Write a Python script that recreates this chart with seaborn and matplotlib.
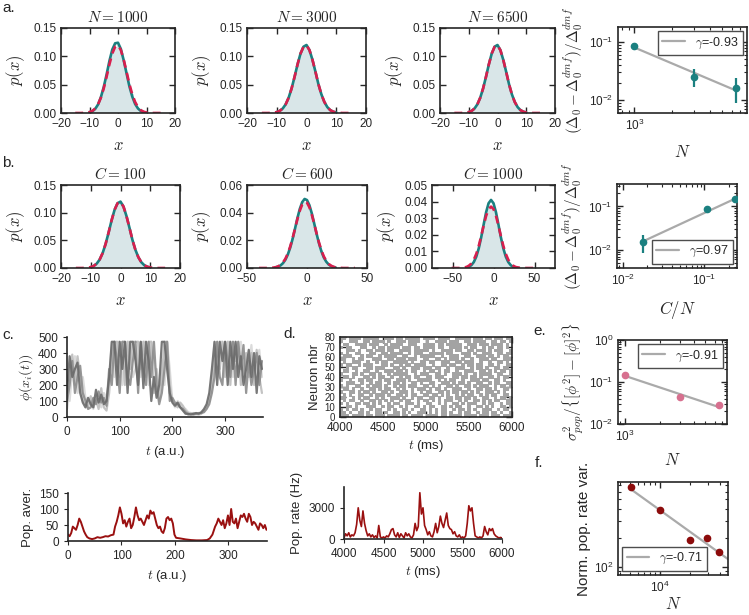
import matplotlib
matplotlib.use("Agg")
import matplotlib.pyplot as plt
import matplotlib.ticker as mticker
import seaborn as sns

sns.set_style("ticks")
plt.rcParams['font.family'] = ['Liberation Sans', 'DejaVu Sans']
plt.rcParams['mathtext.fontset'] = 'cm'
plt.rcParams['axes.linewidth'] = 1.2
plt.rcParams['xtick.labelsize'] = 8.5
plt.rcParams['ytick.labelsize'] = 8.5

TEAL = "#1b8080"
RED = "#d81f4e"
FILL = "#d9e6e8"
GREY_FIT = "#aaaaaa"
PINK = "#d7708f"
DARKRED = "#8c0b0b"
LINE_RED = "#9a1010"

# ---------------- data: distributions (a, b) ----------------
x_a = list(range(-15, 16))
x_a_teal = list(range(-10, 11))
red_a = [0, 0, 0, 0.0002, 0.0006, 0.0016, 0.0037, 0.0079, 0.0153, 0.027, 0.0435,
         0.064, 0.086, 0.105, 0.117, 0.1195, 0.111, 0.094, 0.073, 0.051, 0.033,
         0.0195, 0.0104, 0.005, 0.0023, 0.0009, 0.0003, 0, 0, 0, 0]
teal_a1 = [0.0012, 0.003, 0.0072, 0.015, 0.028, 0.046, 0.068, 0.092, 0.112, 0.123,
           0.124, 0.113, 0.093, 0.07, 0.047, 0.029, 0.016, 0.008, 0.0035, 0.0014, 0.0005]
teal_a2 = [0.0016, 0.0037, 0.0079, 0.0153, 0.027, 0.0435, 0.064, 0.086, 0.105, 0.117,
           0.12, 0.111, 0.094, 0.073, 0.051, 0.033, 0.0195, 0.0104, 0.005, 0.0023, 0.0009]
teal_a3 = teal_a2
teal_b1 = teal_a2

x_b2 = list(range(-40, 41, 2))
red_b2 = [0, 0, 0, 0, 0.0001, 0.0001, 0.0003, 0.0006, 0.0012, 0.0023, 0.004, 0.0067,
          0.0105, 0.0155, 0.0216, 0.0284, 0.0353, 0.0414, 0.0459, 0.0479, 0.0472,
          0.0439, 0.0385, 0.0319, 0.0249, 0.0184, 0.0128, 0.0084, 0.0052, 0.003,
          0.0017, 0.0009, 0.0004, 0.0002, 0.0001, 0, 0, 0, 0, 0, 0]
x_b2_teal = list(range(-26, 25, 2))
teal_b2 = [0.0005, 0.001, 0.0019, 0.0035, 0.006, 0.0097, 0.0147, 0.021, 0.0284, 0.036,
           0.0427, 0.0476, 0.0499, 0.0491, 0.0454, 0.0395, 0.0322, 0.0247, 0.0178,
           0.012, 0.0076, 0.0046, 0.0026, 0.0014, 0.0007, 0.0003]

x_b3 = list(range(-51, 52, 3))
red_b3 = [0, 0, 0, 0, 0.0001, 0.0003, 0.0006, 0.0014, 0.0027, 0.005, 0.0085, 0.0133,
          0.0192, 0.0256, 0.0314, 0.0355, 0.037, 0.0355, 0.0314, 0.0256, 0.0192,
          0.0133, 0.0085, 0.005, 0.0027, 0.0014, 0.0006, 0.0003, 0.0001, 0, 0, 0, 0, 0, 0]
x_b3_teal = list(range(-33, 31, 3))
teal_b3 = [0.0003, 0.0007, 0.0017, 0.0036, 0.0068, 0.0118, 0.0185, 0.0262, 0.0336,
           0.039, 0.041, 0.039, 0.0336, 0.0262, 0.0185, 0.0118, 0.0068, 0.0036,
           0.0017, 0.0007, 0.0003, 0.0001]

# ---------------- data: scaling panels ----------------
a4_N = [1000, 3000, 6500]
a4_y = [0.085, 0.025, 0.016]
a4_lo = [0.075, 0.017, 0.009]
a4_hi = [0.096, 0.034, 0.024]
a4_fit_x = [1000, 6500]
a4_fit_y = [0.08, 0.0145]

b4_cn = [0.0175, 0.107, 0.235]
b4_y = [0.015, 0.087, 0.148]
b4_lo = [0.0085, 0.085, 0.145]
b4_hi = [0.022, 0.09, 0.152]
b4_fit_x = [0.0175, 0.235]
b4_fit_y = [0.0155, 0.15]

e_N = [1000, 3000, 6500]
e_y = [0.15, 0.045, 0.028]
e_lo = [0.13, 0.042, 0.026]
e_hi = [0.165, 0.048, 0.03]
e_fit_x = [1000, 6500]
e_fit_y = [0.14, 0.0255]

f_N = [5100, 10000, 20000, 29700, 39000]
f_y = [680, 390, 190, 200, 143]
f_lo = [660, 380, 185, 193, 133]
f_hi = [700, 400, 196, 207, 152]
f_fit_x = [5000, 48000]
f_fit_y = [650, 120]

# ---------------- data: rate traces (c) ----------------
t_traces = list(range(0, 371, 5))
trace_a = [150, 380, 250, 300, 340, 150, 90, 60, 120, 80,
           60, 170, 90, 140, 80, 100, 250, 470, 470, 200,
           470, 300, 470, 150, 470, 470, 350, 200, 470, 180,
           470, 350, 100, 250, 120, 200, 470, 470, 300, 150,
           90, 70, 90, 60, 40, 20, 20, 15, 20, 25,
           20, 30, 50, 80, 150, 300, 470, 200, 470, 350,
           470, 200, 470, 300, 470, 250, 380, 200, 300, 420,
           250, 400, 150, 380, 300]
trace_b = [50, 300, 390, 200, 380, 250, 100, 80, 60, 130,
           70, 110, 50, 180, 60, 40, 150, 380, 470, 470,
           250, 470, 200, 470, 300, 470, 470, 470, 300, 470,
           250, 470, 470, 150, 300, 100, 250, 470, 470, 200,
           100, 80, 60, 90, 70, 40, 25, 20, 25, 20,
           15, 20, 40, 60, 100, 200, 350, 470, 300, 470,
           250, 470, 200, 470, 350, 470, 200, 300, 400, 250,
           400, 200, 420, 250, 150]
trace_c = [100, 200, 350, 150, 250, 320, 150, 100, 50, 60,
           120, 80, 160, 90, 120, 70, 300, 200, 470, 350,
           150, 470, 470, 250, 200, 350, 470, 150, 470, 300,
           200, 470, 250, 470, 200, 80, 150, 300, 470, 100,
           120, 90, 80, 60, 50, 30, 15, 20, 15, 20,
           25, 25, 30, 50, 80, 150, 250, 470, 250, 200,
           470, 350, 250, 470, 200, 470, 300, 450, 150, 350,
           200, 300, 400, 200, 350]
trace_d = [200, 100, 300, 380, 150, 200, 250, 120, 90, 100,
           50, 140, 100, 60, 150, 120, 200, 470, 250, 470,
           470, 200, 350, 470, 470, 250, 300, 470, 250, 470,
           470, 200, 470, 350, 250, 170, 350, 200, 470, 300,
           100, 60, 100, 80, 60, 50, 30, 25, 20, 15,
           20, 25, 35, 70, 120, 250, 470, 300, 470, 470,
           300, 470, 470, 250, 470, 300, 470, 250, 350, 300,
           450, 250, 350, 420, 250]

t_avg = [0, 3, 6, 9, 12, 15, 18, 21, 24, 27, 30, 33, 36, 40, 45, 50, 55, 60, 65, 70,
         75, 80, 85, 88, 91, 94, 97, 100, 103, 106, 109, 112, 115, 118, 121, 124, 127,
         130, 133, 136, 139, 142, 145, 148, 151, 154, 157, 160, 163, 166, 169, 172,
         175, 178, 181, 184, 187, 190, 193, 196, 199, 202, 210, 220, 230, 240, 250,
         260, 265, 270, 275, 278, 281, 284, 287, 290, 293, 296, 299, 302, 305, 308,
         311, 314, 317, 320, 323, 326, 329, 332, 335, 338, 341, 344, 347, 350, 353,
         356, 359, 362, 365, 368, 371]
pop_avg = [20, 15, 25, 45, 40, 35, 50, 70, 60, 45, 30, 20, 12, 8, 6, 8, 12, 10, 12, 15,
           14, 18, 20, 45, 60, 80, 105, 85, 55, 65, 45, 60, 70, 40, 50, 75, 105, 80, 65, 70,
           60, 50, 65, 80, 70, 95, 85, 90, 70, 50, 40, 45, 30, 25, 40, 70, 75, 65, 70, 55,
           20, 10, 8, 5, 3, 2, 2, 3, 8, 20, 45, 55, 70, 60, 50, 65, 40, 55, 80, 50,
           100, 60, 55, 70, 40, 60, 80, 75, 85, 70, 60, 85, 75, 50, 60, 55, 45, 35, 55, 50,
           40, 50, 35]

# ---------------- data: spiking network (d) ----------------
raster_rows = [
    "##.####.##" "###..###.#" "#.#####.##" "##.####..#" "####.###.#" "#.###.##",
    "#..###..##" ".####.#..#" "##.####..#" "..####.###" "..##.####." ".##.##.#",
    ".##..####." "###..#.###" "#..###..##" "##.##.####" "#..###.###" ".####.#.",
    "#.##...##." ".#.##.####" ".###.##.##" "##.##..###" "#.#.##..#." "##.##.#.",
    "..###.#..#" "#.###.##.." "####.#####" ".#..####.#" "#..##.###." "#.###..#",
    "#.#..##..." "##..##.###" "#..#.###.." "#####.##.." ".###.#..##" "#..##.##",
    ".###...#.#" "#..#.####." ".##..#.###" "##..#..###" "..##..###." "##.#.##.",
    "##..#.##.." ".###..##.#" "##.###..##" "..##.#.###" ".#..#..###" ".##..###",
    ".#..###..#" "..#.##..##" "###.#..##." "##..###..#" "#.###..#.." "#..##.#.",
    "#.##..#.##" "#...##.#.." "#.##.####." ".#..##.##." ".#.##.##.." "##.#..##",
    "..#.##...#" "#.###...##" ".#..###.##" "#.##..#..#" "##..#.##.#" "..##.##.",
    ".##..#..##" "..#..###.#" "#.#.##..#." "##.#.##..#" "..###..##." "#.#.##.#",
    "#...##.#.." "##.#..#.##" "###..#.###" "..##.#..##" "#.#..#.###" "#..##..#",
    ".##.#...##" ".#.##..#.." "#.##.##..#" "#.###...##" ".##.##.#.." "##.#.##.",
    "#..#..##.#" "#..#.##..#" "##.#..####" "#..#.#.##." ".#..###.#" "#..##.#.",
    "..###..#.." "#.##..#.##" ".#..##.#.." "##..###.#." "##.#..##.." "#.##..##",
    "#.#..##..#" ".###.#..#." "##.###..##" ".#.#..##.#" "..##.#.###" "..#.##.#",
    ".##.#..#.." "##.#.##..#" ".#..#.###." "#.##.#..##" "#..#..##.#" "#.#..##.",
    "#..##.#.##" ".#..##.#.." "###.#..#.#" "#..##.#.##" ".##.#.#..#" "##.#.#..",
    ".#.#..##.." "#.###.#..#" "#.#.##..##" ".##.#.#..#" ".#.##..#.#" ".##..##.",
    "##..#.#.##" "..#.#..###" ".#..#.##.." "##.#..##.#" "#.##.#..##" "..#.##.#",
    ".#.##..#.." "##.#.#.#.." "#.##..#.##" ".#.#.###.." "#.#..##.#." "#.##..##",
    "#.#..##.##" ".#.#..#.##" "..###.#..#" "#..#.#..##" ".#.###..#." "##..#.##",
    "..##.#...#" "##..#.##.." "#.#..##.#." "##..##.#.#" "#..#..##.#" ".#..##.#",
    "#.#.##.#.." "#.##..#.#." ".##.#..##." "#.#.##..#." "##.#.#..##" "#..#.##.",
    "##.#..##.#" "..##.#..##" ".#.#..###." "#.#.##.#.." "#.##..#.##" ".##.#..#",
    "###.####.#" "#.###.####" ".##.####.#" "###.##.###" "#.####.###" ".###.###",
]
t_rate = list(range(4000, 6001, 20))
pop_rate = [100, 500, 300, 600, 200, 400, 300, 600, 1400, 3000,
            1800, 1200, 2700, 1500, 800, 300, 500, 200, 400, 150,
            300, 100, 1300, 200, 100, 200, 100, 300, 200, 500,
            900, 1000, 400, 200, 600, 150, 500, 300, 100, 600,
            300, 500, 200, 100, 400, 1500, 800, 1200, 4450, 2400,
            3000, 1300, 900, 400, 700, 300, 200, 700, 1500, 600,
            1200, 2200, 1500, 1100, 1800, 2500, 1300, 1000, 900, 500,
            700, 300, 200, 400, 100, 200, 100, 300, 1500, 3200,
            2700, 3000, 1500, 300, 200, 100, 200, 100, 300, 1200,
            700, 400, 1000, 800, 1000, 500, 300, 200, 100, 150,
            100]

# ---------------- layout ----------------
W, H = 749, 615
fig = plt.figure(figsize=(W / 100, H / 100), dpi=100)


def box(l, t, r, b):
    return [l / W, 1 - b / H, (r - l) / W, (b - t) / H]


def boxed_ticks(ax):
    ax.tick_params(which='both', direction='in', top=True, right=True)
    ax.tick_params(which='major', length=4, width=1)
    ax.tick_params(which='minor', length=2, width=0.8)


def gauss_panel(pos, xr, red, xt, teal, bw, title, xlim, xticks, ylim, yticks):
    ax = fig.add_axes(box(*pos))
    edges = [v - bw / 2 for v in xr] + [xr[-1] + bw / 2]
    sns.histplot(x=xr, weights=red, bins=edges, color=FILL, alpha=1, linewidth=0, ax=ax)
    sns.lineplot(x=xt, y=teal, color=TEAL, linewidth=1.9, ax=ax)
    sns.lineplot(x=xr, y=red, color=RED, linewidth=1.9, linestyle=(0, (3, 2)), ax=ax)
    ax.set_xlim(*xlim)
    ax.set_ylim(*ylim)
    ax.set_xticks(xticks)
    ax.set_yticks(yticks)
    ax.yaxis.set_major_formatter(mticker.FormatStrFormatter('%.2f'))
    ax.set_title(title, fontsize=11, pad=4)
    ax.set_xlabel("$x$", fontsize=12, labelpad=6)
    ax.set_ylabel("$p(x)$", fontsize=12, labelpad=4)
    boxed_ticks(ax)
    return ax


def scaling_panel(pos, x, y, lo, hi, fx, fy, color, label, loc, xlim, ylim, xlabel, ylabel,
                  xpad=8):
    ax = fig.add_axes(box(*pos))
    ax.set_xscale('log')
    ax.set_yscale('log')
    sns.lineplot(x=fx, y=fy, color=GREY_FIT, linewidth=1.6, ax=ax)
    fit_line = ax.lines[-1]
    yerr = [[yy - l for yy, l in zip(y, lo)], [h - yy for yy, h in zip(y, hi)]]
    ax.errorbar(x, y, yerr=yerr, fmt='o', ms=4.5, color=color, ecolor=color,
                elinewidth=1.6, capsize=0, label='_nolegend_', zorder=3)
    ax.set_xlim(*xlim)
    ax.set_ylim(*ylim)
    ax.xaxis.set_minor_formatter(mticker.NullFormatter())
    ax.yaxis.set_minor_formatter(mticker.NullFormatter())
    ax.set_xlabel(xlabel, fontsize=12, labelpad=xpad)
    ax.set_ylabel(ylabel, fontsize=11, labelpad=2)
    boxed_ticks(ax)
    leg = ax.legend([fit_line], [label], loc=loc, fancybox=False, framealpha=1,
                    edgecolor='0.3', fontsize=9, handlelength=1.8, borderpad=0.35,
                    handletextpad=0.8, borderaxespad=0.35)
    leg.get_frame().set_linewidth(1.0)
    return ax


# ---- row a ----
gauss_panel((61, 28, 175, 113), x_a, red_a, x_a_teal, teal_a1, 1, "$N=1000$",
            (-20, 20), [-20, -10, 0, 10, 20], (0, 0.15), [0, 0.05, 0.1, 0.15])
gauss_panel((247, 28, 366, 113), x_a, red_a, x_a_teal, teal_a2, 1, "$N=3000$",
            (-20, 20), [-20, -10, 0, 10, 20], (0, 0.15), [0, 0.05, 0.1, 0.15])
gauss_panel((440, 28, 555, 113), x_a, red_a, x_a_teal, teal_a3, 1, "$N=6500$",
            (-20, 20), [-20, -10, 0, 10, 20], (0, 0.15), [0, 0.05, 0.1, 0.15])
scaling_panel((618, 27, 747, 113), a4_N, a4_y, a4_lo, a4_hi, a4_fit_x, a4_fit_y, TEAL,
              "$\\gamma$=-0.93", 'upper right', (740, 7900), (0.006, 0.18), "$N$",
              "$(\\Delta_0-\\Delta_0^{dmf})/\\Delta_0^{dmf}$")

# ---- row b ----
gauss_panel((61, 185, 180, 268), x_a, red_a, x_a_teal, teal_b1, 1, "$C=100$",
            (-20, 20), [-20, -10, 0, 10, 20], (0, 0.15), [0, 0.05, 0.1, 0.15])
gauss_panel((247, 185, 367, 268), x_b2, red_b2, x_b2_teal, teal_b2, 2, "$C=600$",
            (-50, 50), [-50, 0, 50], (0, 0.06), [0, 0.02, 0.04, 0.06])
gauss_panel((432, 185, 555, 268), x_b3, red_b3, x_b3_teal, teal_b3, 3, "$C=1000$",
            (-75, 75), [-50, 0, 50], (0, 0.05), [0, 0.01, 0.02, 0.03, 0.04, 0.05])
scaling_panel((617, 184, 737, 268), b4_cn, b4_y, b4_lo, b4_hi, b4_fit_x, b4_fit_y, TEAL,
              "$\\gamma$=0.97", 'lower right', (0.0085, 0.25), (0.0038, 0.33), "$C/N$",
              "$(\\Delta_0-\\Delta_0^{dmf})/\\Delta_0^{dmf}$")

# ---- c top: single unit rates ----
ax = fig.add_axes(box(67, 337, 263, 417))
for tr, col in [(trace_d, '#d8d8d8'), (trace_b, '#bdbdbd'), (trace_c, '#8c8c8c'), (trace_a, '#6a6a6a')]:
    sns.lineplot(x=t_traces, y=tr, color=col, linewidth=1.6, alpha=0.9, ax=ax)
ax.set_xlim(0, 372)
ax.set_ylim(0, 500)
ax.set_xticks([0, 100, 200, 300])
ax.set_yticks([0, 100, 200, 300, 400, 500])
ax.set_xlabel("$t$ (a.u.)", fontsize=9.5, labelpad=4)
ax.set_ylabel("$\\phi(x_i(t))$", fontsize=10, labelpad=2)
sns.despine(ax=ax)
ax.tick_params(direction='out', length=3)

# ---- c bottom: population average ----
ax = fig.add_axes(box(68, 493, 267, 541))
sns.lineplot(x=t_avg, y=pop_avg, color=LINE_RED, linewidth=1.4, ax=ax)
ax.set_xlim(0, 372)
ax.set_ylim(0, 150)
ax.set_xticks([0, 100, 200, 300])
ax.set_yticks([0, 50, 100, 150])
ax.set_xlabel("$t$ (a.u.)", fontsize=9.5, labelpad=4)
ax.set_ylabel("Pop. aver.", fontsize=9.5, labelpad=4)
sns.despine(ax=ax)
ax.tick_params(direction='out', length=3)

# ---- d top: raster ----
spike_t, spike_n = [], []
n_rows = len(raster_rows)
for i, row in enumerate(raster_rows):
    for j, ch in enumerate(row):
        if ch == '#':
            spike_t.append(4000 + (j + 0.5) * 2000 / 58)
            spike_n.append(80 - (i + 0.5) * 80 / n_rows)
ax = fig.add_axes(box(340, 337, 512, 417))
sns.scatterplot(x=spike_t, y=spike_n, marker='s', s=6.5, color='#a3a3a3',
                edgecolor='none', linewidth=0, ax=ax)
ax.set_xlim(4000, 6000)
ax.set_ylim(0, 80)
ax.set_xticks([4000, 4500, 5000, 5500, 6000])
ax.set_yticks(list(range(0, 81, 10)))
ax.tick_params(axis='y', labelsize=7)
ax.set_xlabel("$t$ (ms)", fontsize=9.5, labelpad=3)
ax.set_ylabel("Neuron nbr", fontsize=9.5, labelpad=2)
boxed_ticks(ax)

# ---- d bottom: population rate ----
ax = fig.add_axes(box(344, 487, 502, 539))
sns.lineplot(x=t_rate, y=pop_rate, color=LINE_RED, linewidth=1.2, ax=ax)
ax.set_xlim(4000, 6000)
ax.set_ylim(0, 5000)
ax.set_xticks([4000, 4500, 5000, 5500, 6000])
ax.set_yticks([0, 3000])
ax.set_xlabel("$t$ (ms)", fontsize=9.5, labelpad=3)
ax.set_ylabel("Pop. rate (Hz)", fontsize=9.5, labelpad=4)
sns.despine(ax=ax)
ax.tick_params(direction='out', length=3)

# ---- e, f ----
scaling_panel((618, 340, 727, 424), e_N, e_y, e_lo, e_hi, e_fit_x, e_fit_y, PINK,
              "$\\gamma$=-0.91", 'upper right', (870, 7700), (0.01, 1), "$N$",
              "$\\sigma^2_{pop}/\\{[\\phi^2]-[\\phi]^2\\}$", xpad=6)
scaling_panel((618, 482, 728, 575), f_N, f_y, f_lo, f_hi, f_fit_x, f_fit_y, DARKRED,
              "$\\gamma$=-0.71", 'lower left', (3800, 48000), (82, 760), "$N$",
              "Norm. pop. rate var.", xpad=1)

# ---- panel letters ----
for lbl, px, py in [("a.", 2, 1), ("b.", 2, 156), ("c.", 2, 328), ("d.", 283, 327),
                    ("e.", 533, 324), ("f.", 535, 456)]:
    fig.text(px / W, 1 - py / H, lbl, fontsize=11, va='top', ha='left')

fig.savefig("out.png", dpi=100)
